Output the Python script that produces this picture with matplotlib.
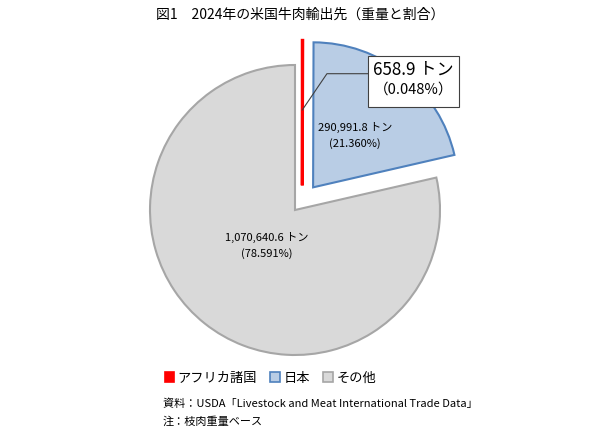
import numpy as np
import matplotlib
matplotlib.use("Agg")
import matplotlib.pyplot as plt
from matplotlib.patches import Patch

plt.rcParams["font.family"] = ["Noto Sans CJK JP", "DejaVu Sans"]

# データ(トン)
categories = ["アフリカ諸国", "日本", "その他"]
weights = [658.9, 290991.8, 1070640.6]
shares = [0.048, 21.360, 78.591]

face_colors = ["#FF0000", "#B9CDE5", "#D9D9D9"]
edge_colors = ["#FF0000", "#4F81BD", "#A6A6A6"]
explode = [0.17, 0.2, 0.0]

fig = plt.figure(figsize=(6, 4.4), dpi=100)
# 円の中心 (295, 210)px、半径 145px
lim = 1.4
r_px = 145
ax = fig.add_axes([(295 - lim * r_px) / 600, (440 - 210 - lim * r_px) / 440,
                   2 * lim * r_px / 600, 2 * lim * r_px / 440])

wedges, _ = ax.pie(weights, startangle=90, counterclock=False, explode=explode,
                   colors=face_colors, radius=1.0,
                   wedgeprops=dict(linewidth=1.5))
for w, ec in zip(wedges, edge_colors):
    w.set_edgecolor(ec)
wedges[0].set_linewidth(2.2)
wedges[0].set_center((wedges[0].center[0] + 0.05, wedges[0].center[1]))
ax.set_xlim(-lim, lim)
ax.set_ylim(-lim, lim)
ax.set_aspect("equal")
ax.axis("off")

# ラベル(日本・その他)
for i, dist in [(1, 0.46), (2, 0.31)]:
    w = wedges[i]
    mid = np.deg2rad((w.theta1 + w.theta2) / 2)
    cx, cy = w.center
    ax.text(cx + dist * np.cos(mid), cy + dist * np.sin(mid),
            f"{weights[i]:,.1f} トン\n({shares[i]:.3f}%)",
            ha="center", va="center", fontsize=8, linespacing=1.6)

# アフリカ諸国の吹き出し
w = wedges[0]
cx, cy = w.center
tip = (cx, cy + 0.52)
ly = tip[1] + 0.25
ax.plot([tip[0], tip[0] + 0.17, tip[0] + 0.45], [tip[1], ly, ly],
        color="#404040", lw=0.8, zorder=3)
box = plt.Rectangle((tip[0] + 0.45, ly - 0.228), 0.63, 0.352, facecolor="white",
                    edgecolor="#404040", lw=0.8, zorder=4)
ax.add_patch(box)
ax.text(tip[0] + 0.765, ly + 0.03, f"{weights[0]:,.1f} トン", ha="center",
        va="center", fontsize=12.3, zorder=5)
ax.text(tip[0] + 0.765, ly - 0.11, f"（{shares[0]:.3f}%）", ha="center",
        va="center", fontsize=10.5, zorder=5)

fig.text(0.5, 1 - 15 / 440, "図1　2024年の米国牛肉輸出先（重量と割合）",
         ha="center", va="center", fontsize=10)

handles = [Patch(facecolor=fc, edgecolor=ec, linewidth=1.2)
           for fc, ec in zip(face_colors, edge_colors)]
fig.legend(handles, categories, ncol=3, loc="center left",
           bbox_to_anchor=(158 / 600, 1 - 378 / 440), frameon=False,
           fontsize=9.5, handlelength=0.7, handleheight=0.7, handletextpad=0.3,
           columnspacing=1.0, borderpad=0)

fig.text(163 / 600, 1 - 404 / 440,
         "資料：USDA「Livestock and Meat International Trade Data」",
         ha="left", va="center", fontsize=8)
fig.text(163 / 600, 1 - 421 / 440, "注：枝肉重量ベース",
         ha="left", va="center", fontsize=8)

fig.savefig("out.png", dpi=100)
